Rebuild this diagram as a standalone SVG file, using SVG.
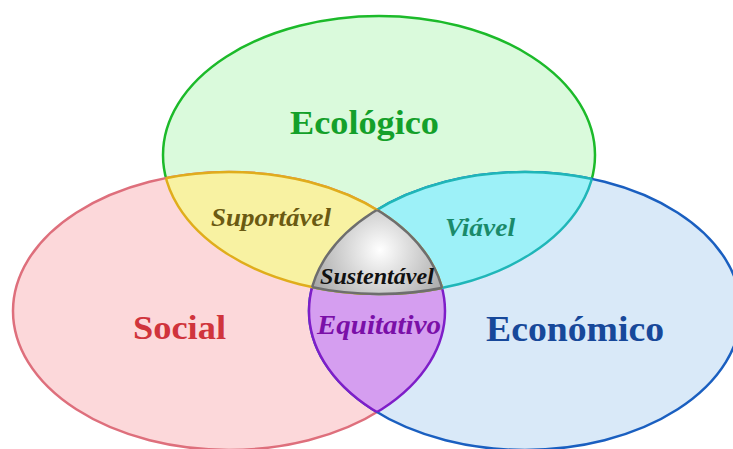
<svg xmlns="http://www.w3.org/2000/svg" width="733" height="449" viewBox="0 0 733 449">
<style>
text{font-family:"Liberation Serif","Times New Roman","DejaVu Serif",serif;font-weight:bold;text-anchor:middle}
.it{font-style:italic}
</style>
<defs>
<ellipse id="eG" cx="379" cy="155" rx="216" ry="139"/>
<ellipse id="eR" cx="229" cy="311" rx="216" ry="139"/>
<ellipse id="eB" cx="525" cy="311" rx="216" ry="139"/>
<clipPath id="cG"><use href="#eG"/></clipPath>
<clipPath id="cR"><use href="#eR"/></clipPath>
<clipPath id="cB"><use href="#eB"/></clipPath>
<radialGradient id="gray" cx="380" cy="250" r="75" gradientUnits="userSpaceOnUse">
<stop offset="0" stop-color="#ffffff"/>
<stop offset="1" stop-color="#a6a6a6"/>
</radialGradient>
</defs>
<rect width="733" height="449" fill="#ffffff"/>

<g id="ecologico">
<use href="#eG" fill="#dafadc" stroke="#1cba2a" stroke-width="2.5"/>
</g>
<g id="social">
<use href="#eR" fill="#fcd8da" stroke="#de6f7c" stroke-width="2.5"/>
</g>
<g id="economico">
<use href="#eB" fill="#d9e9f8" stroke="#1a5fc0" stroke-width="2.5"/>
</g>

<g id="equitativo">
<g clip-path="url(#cB)"><use href="#eR" fill="#d59ef0" stroke="#7e1ec8" stroke-width="2.5"/></g>
<g clip-path="url(#cR)"><use href="#eB" fill="none" stroke="#7e1ec8" stroke-width="2.5"/></g>
</g>
<g id="viavel">
<g clip-path="url(#cB)"><use href="#eG" fill="#9df1f8" stroke="#1fb6b8" stroke-width="2.5"/></g>
<g clip-path="url(#cG)"><use href="#eB" fill="none" stroke="#1fb6b8" stroke-width="2.5"/></g>
</g>
<g id="suportavel">
<g clip-path="url(#cR)"><use href="#eG" fill="#f8f2a2" stroke="#e0ad1c" stroke-width="2.5"/></g>
<g clip-path="url(#cG)"><use href="#eR" fill="none" stroke="#e0ad1c" stroke-width="2.5"/></g>
</g>
<g id="sustentavel">
<g clip-path="url(#cG)"><g clip-path="url(#cR)"><g clip-path="url(#cB)">
<rect x="280" y="190" width="200" height="130" fill="url(#gray)"/>
</g></g></g>
<g clip-path="url(#cR)"><g clip-path="url(#cB)"><use href="#eG" fill="none" stroke="#6e6e6e" stroke-width="2.5"/></g></g>
<g clip-path="url(#cG)"><g clip-path="url(#cB)"><use href="#eR" fill="none" stroke="#6e6e6e" stroke-width="2.5"/></g></g>
<g clip-path="url(#cG)"><g clip-path="url(#cR)"><use href="#eB" fill="none" stroke="#6e6e6e" stroke-width="2.5"/></g></g>
</g>

<g id="labels">
<text x="364.5" y="134" font-size="34" fill="#14a02a" textLength="149" lengthAdjust="spacingAndGlyphs">Ecológico</text>
<text x="179.5" y="339" font-size="34" fill="#d0343c" textLength="93" lengthAdjust="spacingAndGlyphs">Social</text>
<text x="575" y="341" font-size="35" fill="#17489a" textLength="178" lengthAdjust="spacingAndGlyphs">Económico</text>
<text class="it" x="271" y="226" font-size="26" fill="#6b5a12" textLength="120" lengthAdjust="spacingAndGlyphs">Suportável</text>
<text class="it" x="480" y="236" font-size="26" fill="#1a8a6a" textLength="70" lengthAdjust="spacingAndGlyphs">Viável</text>
<text class="it" x="377" y="284" font-size="23" fill="#111111" textLength="114" lengthAdjust="spacingAndGlyphs">Sustentável</text>
<text class="it" x="379" y="334" font-size="27" fill="#7a0fa8" textLength="124" lengthAdjust="spacingAndGlyphs">Equitativo</text>
</g>
</svg>
